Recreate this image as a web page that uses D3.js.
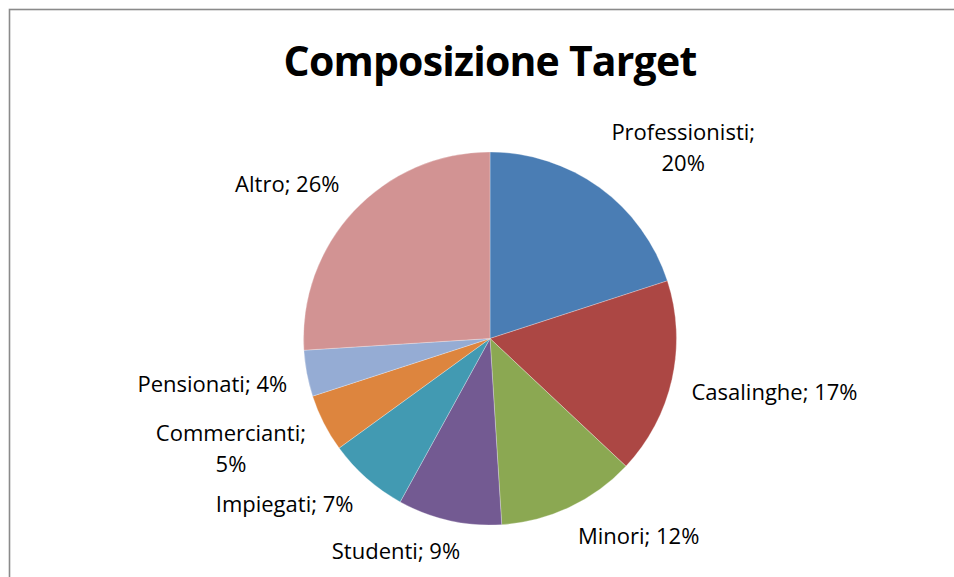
<!DOCTYPE html>
<html>
<head>
<meta charset="utf-8">
<script src="https://d3js.org/d3.v7.min.js"></script>
<style>
  body { margin: 0; background: #fff; }
  text { font-family: "Open Sans", Lato, sans-serif; fill: #000; font-variant-ligatures: none; }
</style>
</head>
<body>
<script>
// chart data
const categories = ["Professionisti", "Casalinghe", "Minori", "Studenti", "Impiegati", "Commercianti", "Pensionati", "Altro"];
const values = [20, 17, 12, 9, 7, 5, 4, 26];
const colors = ["#4A7DB4", "#AC4744", "#8BA852", "#735A92", "#429AB2", "#DD853E", "#95ACD4", "#D29393"];
const title = "Composizione Target";

const width = 954, height = 577;
const cx = 490, cy = 338.5, r = 186.5;

const svg = d3.select("body").append("svg")
    .attr("width", width)
    .attr("height", height);

svg.append("rect")
    .attr("x", 9.5).attr("y", 9.5)
    .attr("width", width).attr("height", height)
    .attr("fill", "#fff")
    .attr("stroke", "#8a8a8a")
    .attr("stroke-width", 1.6);

svg.append("text")
    .attr("x", cx).attr("y", 76)
    .attr("text-anchor", "middle")
    .attr("font-weight", "bold")
    .attr("font-size", 41)
    .attr("letter-spacing", -0.8)
    .text(title);

const pie = d3.pie().sort(null).value(d => d.v);
const arc = d3.arc().innerRadius(0).outerRadius(r);
const data = categories.map((c, i) => ({ c, v: values[i], col: colors[i] }));
const arcs = pie(data);

const g = svg.append("g").attr("transform", `translate(${cx},${cy})`);

g.selectAll("path")
    .data(arcs)
    .join("path")
    .attr("d", arc)
    .attr("fill", d => d.data.col)
    .attr("stroke", "rgba(255,255,255,0.35)")
    .attr("stroke-width", 0.8);

// outside-end labels, wrapped when too long
const fmt = d3.format(".0%");
const total = d3.sum(values);
const gap = 20, k = 3.5, wrapAt = 175;

arcs.forEach(d => {
    const a = (d.startAngle + d.endAngle) / 2;
    const s = Math.sin(a), c = -Math.cos(a);
    const full = d.data.c + "; " + fmt(d.data.v / total);
    const t = g.append("text")
        .attr("font-size", 22)
        .attr("text-anchor", "middle");
    t.text(full);
    let lines = [full];
    if (t.node().getComputedTextLength() > wrapAt) {
        lines = [d.data.c + ";", fmt(d.data.v / total)];
    }
    t.text(null);
    lines.forEach(l => t.append("tspan").text(l));
    let w = 0;
    t.selectAll("tspan").each(function () { w = Math.max(w, this.getComputedTextLength()); });
    const hh = 12 + (lines.length - 1) * 8;
    const px = (r + gap) * s, py = (r + gap) * c;
    const clamp = v => Math.max(-1, Math.min(1, v));
    const bx = px + clamp(s * k) * w / 2;
    const by = py + clamp(c * k) * hh;
    const base = lines.length === 1 ? by + 7 : by - 11;
    t.selectAll("tspan")
        .attr("x", bx)
        .attr("y", (l, i) => base + i * 31);
});
</script>
</body>
</html>
